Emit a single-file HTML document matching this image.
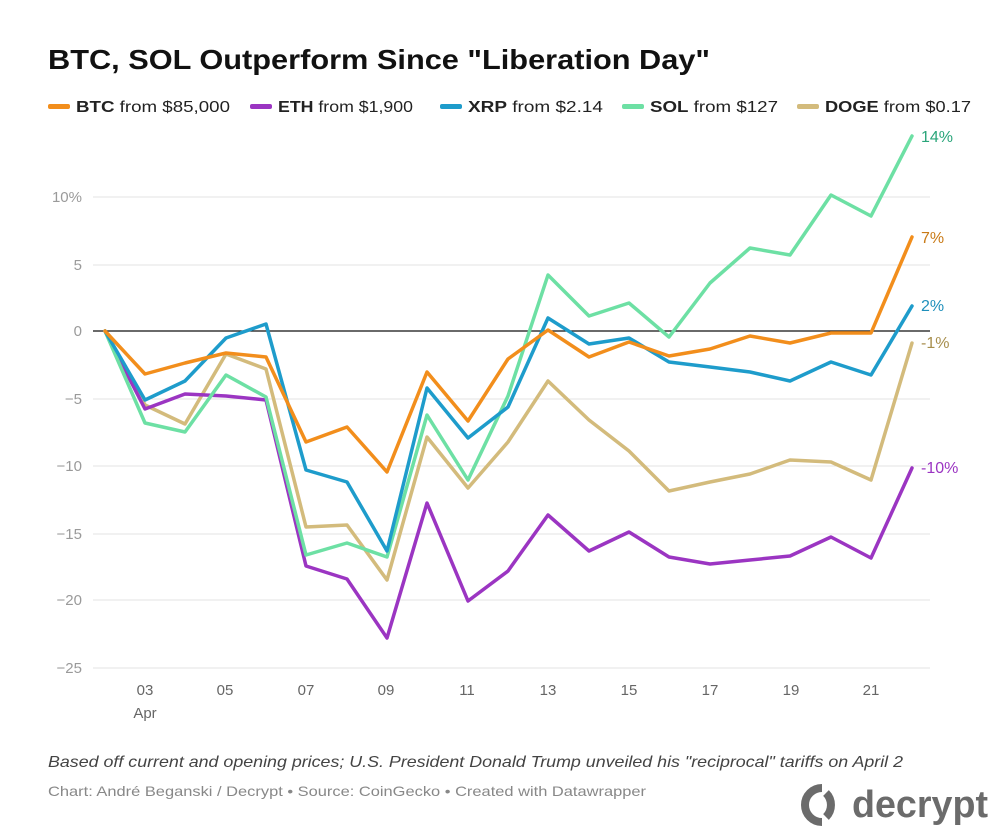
<!DOCTYPE html>
<html><head><meta charset="utf-8"><style>
html,body{margin:0;padding:0;background:#fff;}
svg{display:block;font-family:"Liberation Sans",sans-serif;}
</style></head><body>
<svg width="1000" height="839" viewBox="0 0 1000 839">
<text x="48" y="69" font-size="28" font-weight="bold" fill="#111" textLength="662" lengthAdjust="spacingAndGlyphs">BTC, SOL Outperform Since "Liberation Day"</text>
<g font-size="16" fill="#222">
<rect x="48" y="104" width="22" height="5" rx="2" fill="#f28e1c"/>
<text x="76" y="112" textLength="154" lengthAdjust="spacingAndGlyphs"><tspan font-weight="bold">BTC</tspan> from $85,000</text>
<rect x="250" y="104" width="22" height="5" rx="2" fill="#9b35c2"/>
<text x="278" y="112" textLength="135" lengthAdjust="spacingAndGlyphs"><tspan font-weight="bold">ETH</tspan> from $1,900</text>
<rect x="440" y="104" width="22" height="5" rx="2" fill="#1e9ccb"/>
<text x="468" y="112" textLength="135" lengthAdjust="spacingAndGlyphs"><tspan font-weight="bold">XRP</tspan> from $2.14</text>
<rect x="622" y="104" width="22" height="5" rx="2" fill="#6de0a4"/>
<text x="650" y="112" textLength="128" lengthAdjust="spacingAndGlyphs"><tspan font-weight="bold">SOL</tspan> from $127</text>
<rect x="797" y="104" width="22" height="5" rx="2" fill="#d3bb7c"/>
<text x="825" y="112" textLength="146" lengthAdjust="spacingAndGlyphs"><tspan font-weight="bold">DOGE</tspan> from $0.17</text>
</g>
<g stroke="#e3e3e3" stroke-width="1">
<line x1="93" y1="197" x2="930" y2="197"/>
<line x1="93" y1="265" x2="930" y2="265"/>
<line x1="93" y1="399" x2="930" y2="399"/>
<line x1="93" y1="466" x2="930" y2="466"/>
<line x1="93" y1="534" x2="930" y2="534"/>
<line x1="93" y1="600" x2="930" y2="600"/>
<line x1="93" y1="668" x2="930" y2="668"/>
</g>
<line x1="93" y1="331" x2="930" y2="331" stroke="#111" stroke-width="1.2"/>
<g font-size="15" fill="#9a9a9a" text-anchor="end">
<text x="82" y="202">10%</text><text x="82" y="270">5</text><text x="82" y="336">0</text>
<text x="82" y="404">−5</text><text x="82" y="471">−10</text><text x="82" y="539">−15</text>
<text x="82" y="605">−20</text><text x="82" y="673">−25</text>
</g>
<g font-size="15" fill="#666" text-anchor="middle">
<text x="145" y="695">03</text><text x="145" y="718">Apr</text>
<text x="225" y="695">05</text><text x="306" y="695">07</text><text x="386" y="695">09</text>
<text x="467" y="695">11</text><text x="548" y="695">13</text><text x="629" y="695">15</text>
<text x="710" y="695">17</text><text x="791" y="695">19</text><text x="871" y="695">21</text>
</g>
<g fill="none" stroke-width="3.5" stroke-linejoin="round" stroke-linecap="round">
<polyline stroke="#d3bb7c" points="105,331 145,405 185,424 226,354 266,369 306,527 347,525 387,580 427,437 468,488 508,442 548,381 589,420 629,451 669,491 710,482 750,474 790,460 831,462 871,480 912,343"/>
<polyline stroke="#9b35c2" points="105,331 145,409 185,394 226,396 266,400 306,566 347,579 387,638 427,503 468,601 508,571 548,515 589,551 629,532 669,557 710,564 750,560 790,556 831,537 871,558 912,468"/>
<polyline stroke="#6de0a4" points="105,331 145,423 185,432 226,375 266,397 306,555 347,543 387,557 427,415 468,480 508,396 548,275 589,316 629,303 669,337 710,283 750,248 790,255 831,195 871,216 912,136"/>
<polyline stroke="#1e9ccb" points="105,331 145,400 185,381 226,338 266,324 306,470 347,482 387,551 427,388 468,438 508,407 548,318 589,344 629,338 669,362 710,367 750,372 790,381 831,362 871,375 912,306"/>
<polyline stroke="#f28e1c" points="105,331 145,374 185,363 226,353 266,357 306,442 347,427 387,472 427,372 468,421 508,359 548,330 589,357 629,342 669,356 710,349 750,336 790,343 831,333 871,333 912,237"/>
</g>
<g font-size="16">
<text x="921" y="142" fill="#2aa57a">14%</text>
<text x="921" y="243" fill="#c97a16">7%</text>
<text x="921" y="311" fill="#1e8fbb">2%</text>
<text x="921" y="348" fill="#a78e4c">-1%</text>
<text x="921" y="473" fill="#9b35c2">-10%</text>
</g>
<text x="48" y="767" font-size="16" font-style="italic" fill="#444" textLength="855" lengthAdjust="spacingAndGlyphs">Based off current and opening prices; U.S. President Donald Trump unveiled his "reciprocal" tariffs on April 2</text>
<text x="48" y="796" font-size="14" fill="#888" textLength="598" lengthAdjust="spacingAndGlyphs">Chart: André Beganski / Decrypt • Source: CoinGecko • Created with Datawrapper</text>
<g fill="none" stroke="#6b6b6b" stroke-width="8">
<path d="M822 788 A17 17 0 1 0 822 822"/>
<path d="M818 793 A17 17 0 0 1 818 817" transform="translate(8,0)"/>
</g>
<text x="852" y="817" font-size="38" font-weight="bold" fill="#6b6b6b" textLength="136" lengthAdjust="spacingAndGlyphs">decrypt</text>
</svg>
</body></html>
